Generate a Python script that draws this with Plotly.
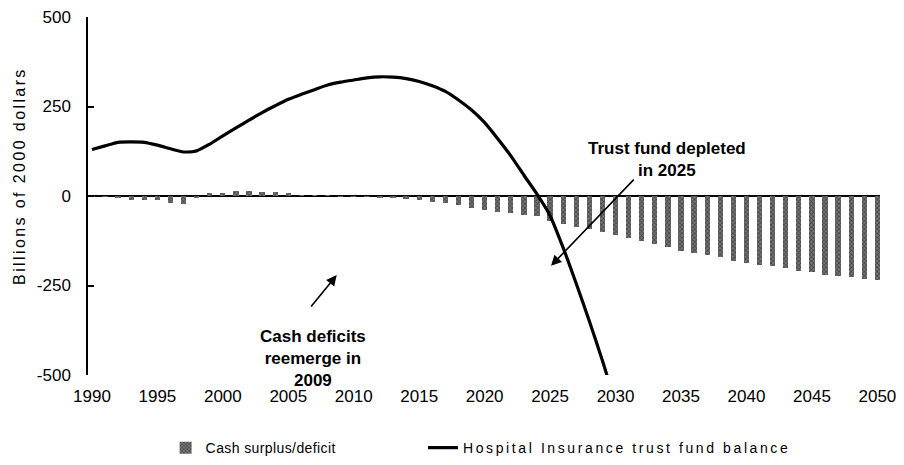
import plotly.graph_objects as go

years = list(range(1990, 2051))

cash_surplus_deficit = [
    -2, -2, -3, -11, -10, -10, -19, -22, -3, 8,
    9, 13, 15, 11, 10, 7, 2, 1, 1, -1,
    -1, -2, -3, -6, -9, -12, -18, -20, -26, -34,
    -40, -44, -48, -54, -56, -69, -78, -86, -92, -101,
    -108, -117, -127, -134, -142, -153, -158, -165, -171, -181,
    -187, -193, -196, -201, -209, -213, -220, -224, -227, -233,
    -236,
]

hi_years = list(range(1990, 2031))
hi_trust_fund_balance = [
    130, 140, 150, 151, 150, 142, 132, 123, 126, 145,
    168, 190, 212, 233, 252, 270, 284, 297, 310, 318,
    324, 330, 333, 332, 328, 320, 308, 292, 268, 240,
    205, 160, 112, 58, 5, -55, -145, -245, -350, -460,
    -580,
]

y_ticks = [-500, -250, 0, 250, 500]
x_ticks = list(range(1990, 2051, 5))

FONT = "Liberation Sans, Arial, sans-serif"


def spaced(t, px):
    return f"<span style='letter-spacing:{px}px'>{t}</span>"


fig = go.Figure()
fig.add_trace(go.Bar(
    x=years, y=cash_surplus_deficit, name=spaced("Cash surplus/deficit", 0.4),
    width=0.4, legend="legend",
    marker=dict(color="#444444", line=dict(width=0),
                pattern=dict(shape="x", fgcolor="#111111", bgcolor="#7a7a7a",
                             size=3, solidity=0.5)),
))
fig.add_trace(go.Scatter(
    x=hi_years, y=hi_trust_fund_balance, mode="lines",
    name=spaced("Hospital Insurance trust fund balance", 2.6), legend="legend2",
    line=dict(color="black", width=3.2, shape="spline", smoothing=0.6),
))

fig.add_annotation(x=2025.07, y=-195, ax=2031.5, ay=50, xref="x", yref="y",
                   axref="x", ayref="y", text="", showarrow=True,
                   arrowhead=2, arrowsize=1.3, arrowwidth=1.6, arrowcolor="black")
fig.add_annotation(x=2008.7, y=-221, ax=2006.65, ay=-313, xref="x", yref="y",
                   axref="x", ayref="y", text="", showarrow=True,
                   arrowhead=2, arrowsize=1.3, arrowwidth=1.6, arrowcolor="black")
fig.add_annotation(x=2033.9, y=102, xref="x", yref="y", showarrow=False,
                   text="<b>Trust fund depleted<br>in 2025</b>",
                   font=dict(family=FONT, size=17, color="black"))
fig.add_annotation(x=2006.9, y=-455, xref="x", yref="y", showarrow=False,
                   text="<b>Cash deficits<br>reemerge in<br>2009</b>",
                   font=dict(family=FONT, size=17, color="black"))
# y-axis title
fig.add_annotation(x=-0.0859, y=0.556, xref="paper", yref="paper",
                   showarrow=False, textangle=-90,
                   xanchor="center", yanchor="middle",
                   text=spaced("Billions of 2000 dollars", 2.4),
                   font=dict(family=FONT, size=16, color="black"))

fig.update_layout(
    width=904, height=465,
    margin=dict(l=80, r=32, t=9, b=98),
    paper_bgcolor="white", plot_bgcolor="white",
    font=dict(family=FONT, size=17, color="black"),
    showlegend=True,
    legend=dict(orientation="h", x=0.098, xanchor="left", y=-0.204,
                yanchor="middle", font=dict(size=14),
                bgcolor="rgba(0,0,0,0)"),
    legend2=dict(orientation="h", x=0.423, xanchor="left", y=-0.204,
                 yanchor="middle", font=dict(size=14),
                 bgcolor="rgba(0,0,0,0)"),
    bargap=0,
)
fig.update_xaxes(
    range=[1989.7, 2050.2], tickmode="array", tickvals=x_ticks,
    ticktext=[str(t) for t in x_ticks],
    showgrid=False, zeroline=False, showline=False, ticks="",
    ticklabelstandoff=9, automargin=False, ticklabeloverflow="allow",
)
fig.update_yaxes(
    range=[-500, 500], tickmode="array", tickvals=y_ticks,
    ticktext=[str(t) for t in y_ticks],
    showgrid=False, zeroline=True, zerolinecolor="black", zerolinewidth=2,
    showline=True, linecolor="black", linewidth=1.5,
    ticks="inside", ticklen=6, tickcolor="black", tickwidth=1.5,
    ticklabelstandoff=12, automargin=False, ticklabeloverflow="allow",
)

fig.write_html("out.html")
